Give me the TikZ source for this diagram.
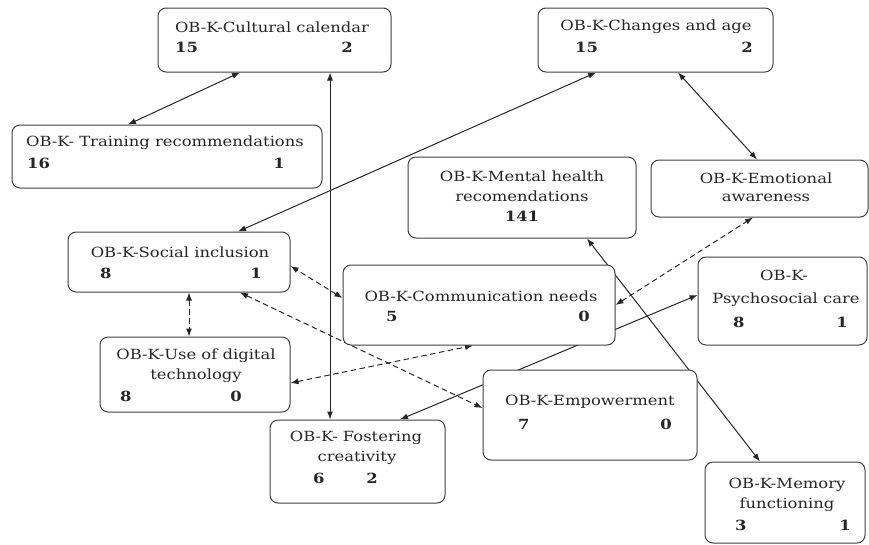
\documentclass[tikz,border=0pt]{standalone}
\usepackage{fontspec}
\setmainfont{DejaVu Serif}[FakeStretch=1.17]
\usetikzlibrary{arrows.meta}
\pgfdeclarelayer{bg}
\pgfsetlayers{bg,main}
\begin{document}
\begin{tikzpicture}[x=1pt,y=-1pt,
  box/.style={draw=black!75, line width=1pt, rounded corners=8pt, fill=white, inner sep=0pt},
  ttl/.style={font=\fontsize{14}{16}\selectfont, text=black!85, inner sep=0pt},
  num/.style={font=\fontsize{14}{16}\selectfont\bfseries, text=black!85, inner sep=0pt},
  conn/.style={line width=1pt, draw=black!85, {Latex[length=8pt,width=6pt]}-{Latex[length=8pt,width=6pt]}},
  dconn/.style={conn, dash pattern=on 5.5pt off 3.5pt}]
\useasboundingbox (0,0) rectangle (869,544);
% boxes
\node[box, minimum width=233pt, minimum height=64pt] (cc) at (274.5,40) {};
\node[box, minimum width=310pt, minimum height=63pt] (tr) at (167,156.5) {};
\node[box, minimum width=235pt, minimum height=64pt] (ca) at (655.5,40) {};
\node[box, minimum width=228pt, minimum height=81pt] (mh) at (522,197.5) {};
\node[box, minimum width=217pt, minimum height=57pt] (ea) at (759.5,188.5) {};
\node[box, minimum width=222pt, minimum height=60pt] (si) at (179,262) {};
\node[box, minimum width=272pt, minimum height=80pt] (cn) at (479,305) {};
\node[box, minimum width=190pt, minimum height=75pt] (ud) at (195,374.5) {};
\node[box, minimum width=169pt, minimum height=88pt] (ps) at (782.5,301) {};
\node[box, minimum width=214pt, minimum height=90pt] (em) at (590,415) {};
\node[box, minimum width=175pt, minimum height=83pt] (fc) at (357.5,461.5) {};
\node[box, minimum width=160pt, minimum height=81pt] (mf) at (785,502.5) {};
% texts
\node[ttl] (cct) at (272,27) {OB-K-Cultural calendar};
\node[num, anchor=west] (cca) at (175,47) {15};
\node[num, anchor=east] (ccb) at (353,47) {2};
\node[ttl] (trt) at (165,143) {OB-K- Training recommendations};
\node[num, anchor=west] (tra) at (27,163) {16};
\node[num, anchor=east] (trb) at (285,163) {1};
\node[ttl] (cat) at (656,27) {OB-K-Changes and age};
\node[num, anchor=west] (caa) at (575,47) {15};
\node[num, anchor=east] (cab) at (753,47) {2};
\node[ttl] (mht1) at (522,176) {OB-K-Mental health};
\node[ttl] (mht2) at (522,196) {recomendations};
\node[num] (mha) at (522,216) {141};
\node[ttl] (eat1) at (766,178) {OB-K-Emotional};
\node[ttl] (eat2) at (766,198) {awareness};
\node[ttl] (sit) at (180,252) {OB-K-Social inclusion};
\node[num, anchor=west] (sia) at (100,273) {8};
\node[num, anchor=east] (sib) at (262,273) {1};
\node[ttl] (cnt) at (481,296) {OB-K-Communication needs};
\node[num, anchor=west] (cna) at (386,316) {5};
\node[num, anchor=east] (cnb) at (590,316) {0};
\node[ttl] (udt1) at (196,356) {OB-K-Use of digital};
\node[ttl] (udt2) at (196,376) {technology};
\node[num, anchor=west] (uda) at (120,396) {8};
\node[num, anchor=east] (udb) at (242,396) {0};
\node[ttl] (pst1) at (784,275) {OB-K-};
\node[ttl] (pst2) at (786,300) {Psychosocial care};
\node[num, anchor=west] (psa) at (733,322) {8};
\node[num, anchor=east] (psb) at (848,322) {1};
\node[ttl] (emt) at (590,402) {OB-K-Empowerment};
\node[num, anchor=west] (ema) at (518,424) {7};
\node[num, anchor=east] (emb) at (672,424) {0};
\node[ttl] (fct1) at (356,438) {OB-K- Fostering};
\node[ttl] (fct2) at (357,458) {creativity};
\node[num, anchor=west] (fca) at (313,478) {6};
\node[num, anchor=east] (fcb) at (378,478) {2};
\node[ttl] (mft1) at (787,485) {OB-K-Memory};
\node[ttl] (mft2) at (787,505) {functioning};
\node[num, anchor=west] (mfa) at (735,525) {3};
\node[num, anchor=east] (mfb) at (851,525) {1};
% connectors
\begin{pgfonlayer}{bg}
\draw[conn] ([xshift=-34.5pt]cc.south) -- ([xshift=-39pt]tr.north);
\draw[conn] ([xshift=55.5pt]cc.south) -- ([xshift=55.5pt]cc.south |- fc.north);
\draw[conn] ([xshift=-59.5pt]ca.south) -- ([xshift=59pt]si.north);
\draw[conn] ([xshift=22.5pt]ca.south) -- ([xshift=-2.5pt]ea.north);
\draw[conn] ([xshift=65pt]mh.south) -- ([xshift=-25pt]mf.north);
\draw[conn] ([xshift=42.5pt]fc.north) -- ([yshift=6pt]ps.west);
\draw[dconn] ([yshift=7pt]cn.west) -- ([yshift=-4pt]si.east);
\draw[dconn] ([xshift=10pt]si.south) -- ([xshift=10pt]si.south |- ud.north);
\draw[dconn] ([xshift=61pt]si.south) -- ([yshift=7pt]em.west);
\draw[dconn] ([yshift=-8.5pt]ud.east) -- ([xshift=-6pt]cn.south);
\draw[dconn] (cn.east) -- ([xshift=-6.5pt]ea.south);
\end{pgfonlayer}
\end{tikzpicture}
\end{document}
